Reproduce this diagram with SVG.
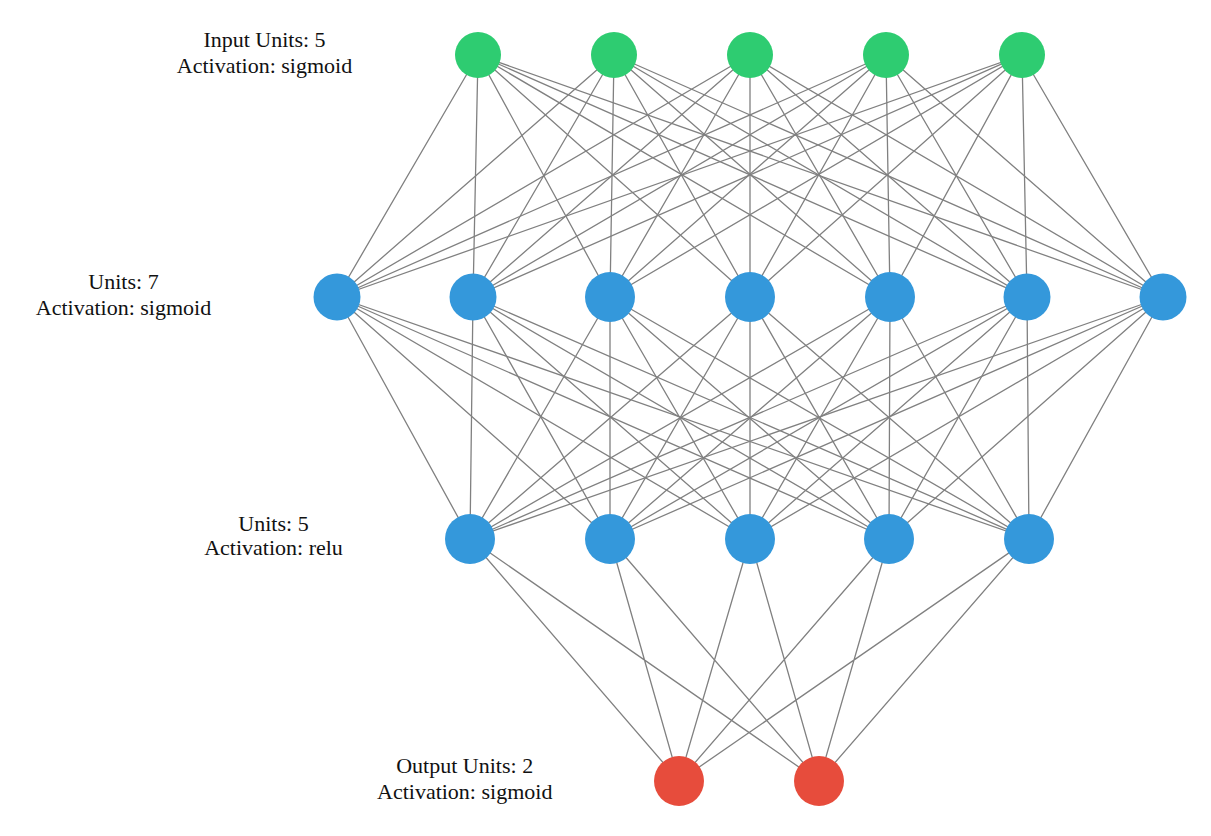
<svg xmlns="http://www.w3.org/2000/svg" width="1211" height="836" viewBox="0 0 1211 836">
<style>
.e{stroke:#808080;stroke-width:1.3;fill:none}
.in{fill:#2ecc71}
.hid{fill:#3498db}
.out{fill:#e74c3c}
.lbl{font-family:"Liberation Serif","Times New Roman",serif;font-size:22px;fill:#111;text-anchor:middle}
</style>
<rect width="1211" height="836" fill="#ffffff"/>
<g id="connectors">
<path class="e" d="M478,55L337,297M478,55L473,297M478,55L610,297M478,55L750,297M478,55L890,297M478,55L1027,297M478,55L1163,297"/>
<path class="e" d="M614,55L337,297M614,55L473,297M614,55L610,297M614,55L750,297M614,55L890,297M614,55L1027,297M614,55L1163,297"/>
<path class="e" d="M750,55L337,297M750,55L473,297M750,55L610,297M750,55L750,297M750,55L890,297M750,55L1027,297M750,55L1163,297"/>
<path class="e" d="M886,55L337,297M886,55L473,297M886,55L610,297M886,55L750,297M886,55L890,297M886,55L1027,297M886,55L1163,297"/>
<path class="e" d="M1022,55L337,297M1022,55L473,297M1022,55L610,297M1022,55L750,297M1022,55L890,297M1022,55L1027,297M1022,55L1163,297"/>
<path class="e" d="M337,297L470,539M337,297L610,539M337,297L750,539M337,297L889,539M337,297L1029,539"/>
<path class="e" d="M473,297L470,539M473,297L610,539M473,297L750,539M473,297L889,539M473,297L1029,539"/>
<path class="e" d="M610,297L470,539M610,297L610,539M610,297L750,539M610,297L889,539M610,297L1029,539"/>
<path class="e" d="M750,297L470,539M750,297L610,539M750,297L750,539M750,297L889,539M750,297L1029,539"/>
<path class="e" d="M890,297L470,539M890,297L610,539M890,297L750,539M890,297L889,539M890,297L1029,539"/>
<path class="e" d="M1027,297L470,539M1027,297L610,539M1027,297L750,539M1027,297L889,539M1027,297L1029,539"/>
<path class="e" d="M1163,297L470,539M1163,297L610,539M1163,297L750,539M1163,297L889,539M1163,297L1029,539"/>
<path class="e" d="M470,539L679,781M470,539L819,781M610,539L679,781M610,539L819,781M750,539L679,781M750,539L819,781M889,539L679,781M889,539L819,781M1029,539L679,781M1029,539L819,781"/>
</g>
<g id="layer-input">
<text class="lbl" x="264.5" y="47.3">Input Units: 5</text>
<text class="lbl" x="264.5" y="73.3">Activation: sigmoid</text>
<circle id="in1" class="in" cx="478" cy="55" r="23"/>
<circle id="in2" class="in" cx="614" cy="55" r="23"/>
<circle id="in3" class="in" cx="750" cy="55" r="23"/>
<circle id="in4" class="in" cx="886" cy="55" r="23"/>
<circle id="in5" class="in" cx="1022" cy="55" r="23"/>
</g>
<g id="layer-hidden1">
<text class="lbl" x="123.5" y="289.3">Units: 7</text>
<text class="lbl" x="123.5" y="315">Activation: sigmoid</text>
<circle id="h1n1" class="hid" cx="337" cy="297" r="23.5"/>
<circle id="h1n2" class="hid" cx="473" cy="297" r="23.5"/>
<circle id="h1n3" class="hid" cx="610" cy="297" r="25"/>
<circle id="h1n4" class="hid" cx="750" cy="297" r="25"/>
<circle id="h1n5" class="hid" cx="890" cy="297" r="25"/>
<circle id="h1n6" class="hid" cx="1027" cy="297" r="23.5"/>
<circle id="h1n7" class="hid" cx="1163" cy="297" r="23.5"/>
</g>
<g id="layer-hidden2">
<text class="lbl" x="273.5" y="530.7">Units: 5</text>
<text class="lbl" x="273.5" y="555">Activation: relu</text>
<circle id="h2n1" class="hid" cx="470" cy="539" r="25"/>
<circle id="h2n2" class="hid" cx="610" cy="539" r="25"/>
<circle id="h2n3" class="hid" cx="750" cy="539" r="25"/>
<circle id="h2n4" class="hid" cx="889" cy="539" r="25"/>
<circle id="h2n5" class="hid" cx="1029" cy="539" r="25"/>
</g>
<g id="layer-output">
<text class="lbl" x="464.7" y="773.3">Output Units: 2</text>
<text class="lbl" x="464.7" y="799.3">Activation: sigmoid</text>
<circle id="out1" class="out" cx="679" cy="781" r="25"/>
<circle id="out2" class="out" cx="819" cy="781" r="25"/>
</g>
</svg>
